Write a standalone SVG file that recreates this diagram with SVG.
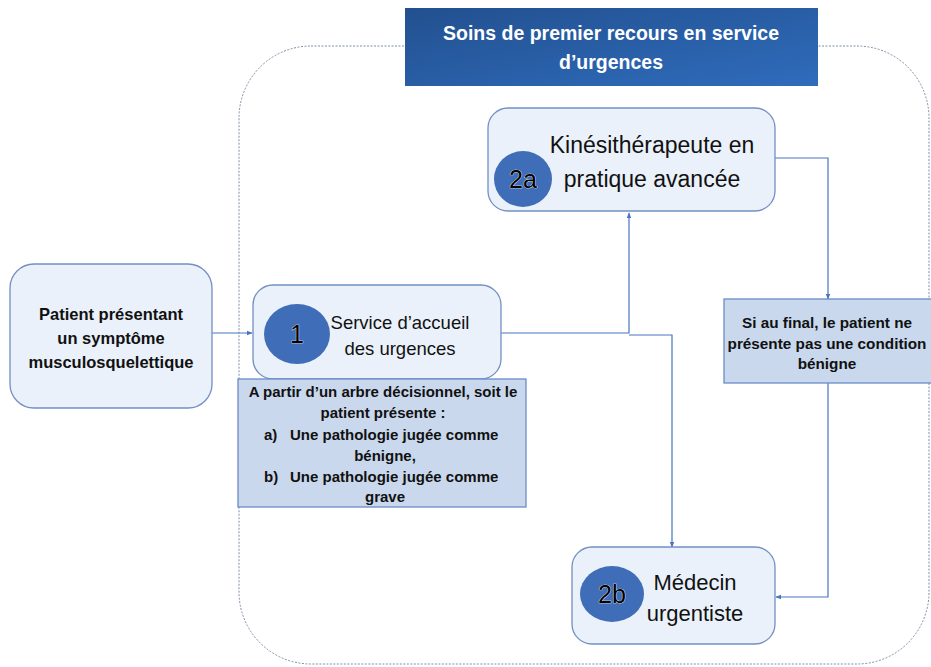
<svg xmlns="http://www.w3.org/2000/svg" width="931" height="667" viewBox="0 0 931 667">
<defs>
  <linearGradient id="titleGrad" x1="0" y1="0" x2="1" y2="1">
    <stop offset="0" stop-color="#22508f"/>
    <stop offset="1" stop-color="#2f6cbc"/>
  </linearGradient>
  <marker id="arr" viewBox="0 0 10 10" refX="9" refY="5" markerWidth="6" markerHeight="6" orient="auto" markerUnits="userSpaceOnUse">
    <path d="M0,1 L10,5 L0,9 z" fill="#4a75c0"/>
  </marker>
  <style>
    .box{fill:#eaf1fa;stroke:#7290c4;stroke-width:1.3}
    .note{fill:#c9d8ed;stroke:#6a8cc6;stroke-width:1.3}
    .circ{fill:#3f6db8}
    .num{font-family:"Liberation Sans",Arial,sans-serif;font-size:25px;fill:#000;stroke:#ffffff;stroke-width:0.7;paint-order:stroke;text-anchor:middle}
    .lbl{font-family:"Liberation Sans",Arial,sans-serif;fill:#111;text-anchor:middle}
    .start{text-anchor:start}
    .b{font-weight:bold}
    .w{fill:#ffffff}
    .conn{fill:none;stroke:#4a75c0;stroke-width:1.2}
  </style>
</defs>
<rect width="931" height="667" fill="#ffffff"/>

<g id="frame">
  <rect x="239" y="46" width="690" height="618" rx="72" ry="72" fill="none" stroke="#7f8ea8" stroke-width="1" stroke-dasharray="2 1.5"/>
</g>

<g id="title">
  <rect x="405" y="8" width="413" height="78" fill="url(#titleGrad)"/>
  <text class="lbl b w" x="611" y="40" font-size="19.5">Soins de premier recours en service</text>
  <text class="lbl b w" x="611" y="69" font-size="19.5">d’urgences</text>
</g>

<g id="connectors">
  <path class="conn" d="M212,333 H252" marker-end="url(#arr)"/>
  <path class="conn" d="M501,333 H629 V213" marker-end="url(#arr)"/>
  <path class="conn" d="M629,335 H672 V547" marker-end="url(#arr)"/>
  <path class="conn" d="M775,158 H828 V299" marker-end="url(#arr)"/>
  <path class="conn" d="M828,383 V597 H776" marker-end="url(#arr)"/>
</g>

<g id="patient">
  <rect class="box" x="10" y="264" width="202" height="144" rx="24"/>
  <text class="lbl b" x="111" y="320" font-size="16.5">Patient présentant</text>
  <text class="lbl b" x="111" y="344" font-size="16.5">un symptôme</text>
  <text class="lbl b" x="111" y="368" font-size="16.5">musculosquelettique</text>
</g>

<g id="service">
  <rect class="box" x="253" y="285" width="248" height="94" rx="20"/>
  <ellipse class="circ" cx="297" cy="334" rx="33" ry="30"/>
  <text class="num" x="297" y="343">1</text>
  <text class="lbl" x="400" y="329" font-size="18.5">Service d’accueil</text>
  <text class="lbl" x="400" y="355" font-size="18.5">des urgences</text>
</g>

<g id="decision">
  <rect class="note" x="238" y="379" width="288" height="128"/>
  <text class="lbl b" x="383" y="397" font-size="15">A partir d’un arbre décisionnel, soit le</text>
  <text class="lbl b" x="383" y="418" font-size="15">patient présente :</text>
  <text class="lbl b start" x="264" y="440" font-size="15">a)</text>
  <text class="lbl b start" x="290" y="440" font-size="15">Une pathologie jugée comme</text>
  <text class="lbl b" x="385" y="461" font-size="15">bénigne,</text>
  <text class="lbl b start" x="264" y="482" font-size="15">b)</text>
  <text class="lbl b start" x="290" y="482" font-size="15">Une pathologie jugée comme</text>
  <text class="lbl b" x="385" y="502" font-size="15">grave</text>
</g>

<g id="kine">
  <rect class="box" x="488" y="108" width="287" height="103" rx="20"/>
  <ellipse class="circ" cx="523" cy="179" rx="29" ry="28"/>
  <text class="num" x="523" y="188">2a</text>
  <text class="lbl" x="652" y="153" font-size="23">Kinésithérapeute en</text>
  <text class="lbl" x="652" y="187" font-size="23">pratique avancée</text>
</g>

<g id="condition">
  <rect class="note" x="724" y="299" width="210" height="84"/>
  <text class="lbl b" x="827" y="328" font-size="15.3">Si au final, le patient ne</text>
  <text class="lbl b" x="827" y="349" font-size="15.3">présente pas une condition</text>
  <text class="lbl b" x="827" y="369" font-size="15.3">bénigne</text>
</g>

<g id="medecin">
  <rect class="box" x="572" y="547" width="203" height="97" rx="20"/>
  <ellipse class="circ" cx="612" cy="594" rx="32" ry="28"/>
  <text class="num" x="612" y="603">2b</text>
  <text class="lbl" x="695" y="590" font-size="22">Médecin</text>
  <text class="lbl" x="695" y="621" font-size="22">urgentiste</text>
</g>
</svg>
